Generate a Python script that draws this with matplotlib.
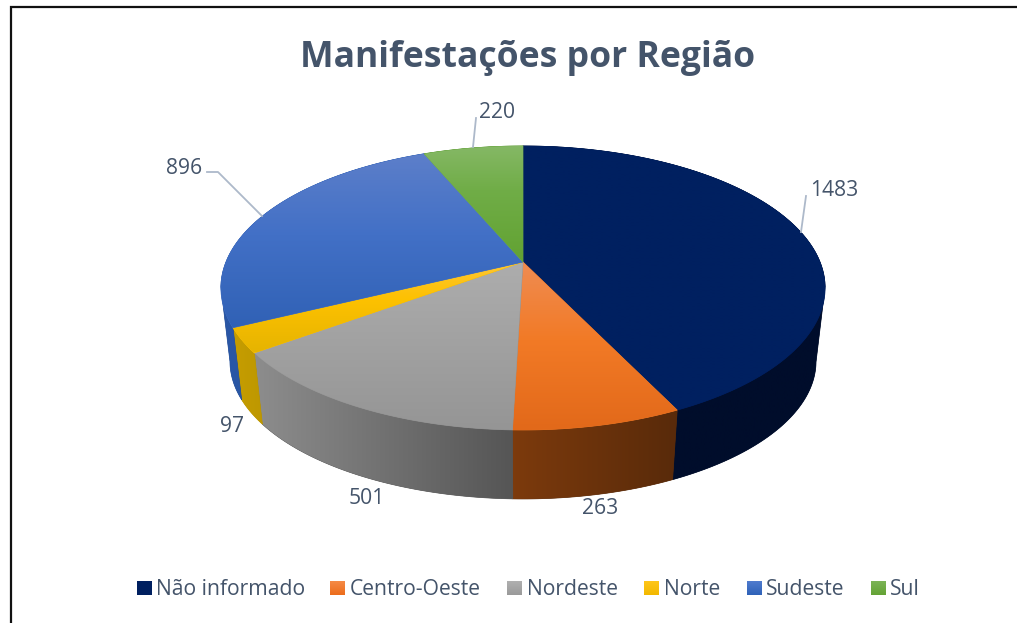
#!/usr/bin/env python3

import numpy as np
import matplotlib
matplotlib.use('Agg')
import matplotlib.pyplot as plt
from matplotlib.colors import LinearSegmentedColormap
from matplotlib.patches import Polygon

# chart data
categories = ['Não informado', 'Centro-Oeste', 'Nordeste', 'Norte', 'Sudeste', 'Sul']
values = [1483, 263, 501, 97, 896, 220]

TEXT_COLOR = '#44546a'
LEADER_COLOR = '#adb9ca'

# top face gradients, (pixel y, colour)
TOP_STOPS = [
    [(146, '#002060'), (430, '#002060')],
    [(262, '#ef8c52'), (340, '#f27a26'), (430, '#e2691a')],
    [(262, '#adadad'), (430, '#959595')],
    [(262, '#ffc633'), (300, '#fdc100'), (352, '#e6b400')],
    [(146, '#5f80ca'), (235, '#4270c6'), (335, '#2f60b4')],
    [(146, '#85b865'), (190, '#70ad47'), (262, '#62a232')],
]

# side gradients, (pixel x, colour)
SIDE_STOPS = [
    [(520, '#000d2b'), (830, '#000d2b')],
    [(505, '#7e3b0d'), (680, '#582a0a')],
    [(250, '#8e8e8e'), (515, '#555555')],
    [(230, '#c79e00'), (265, '#bd9700')],
    [(215, '#2a57a6'), (530, '#244e96')],
    [(420, '#4f8a2a'), (530, '#4f8a2a')],
]

# legend swatch gradients
LEGEND_TOP = ['#002060', '#f58a45', '#b0b0b0', '#ffc61a', '#4f7bce', '#7cb457']
LEGEND_BOTTOM = ['#002060', '#ec6d1c', '#9a9a9a', '#f2b800', '#2f62b8', '#64a335']
LEGEND_BOX_X = [137, 330, 507, 644, 747, 871]
LEGEND_TEXT_X = [156, 350, 527, 664, 766, 890]

# data labels, leader lines
LABEL_POS = [(834, 190), (600, 508), (367, 498), (232, 426), (184, 168), (497, 112)]
LEADERS = [
    [(801, 232), (806, 196)],
    None,
    None,
    None,
    [(262, 216), (218, 172), (207, 172)],
    [(473, 147), (476, 118)],
]

# the pie is a circle seen in perspective, fitted on the reference
CX, CY = 523, 262
RX = 297
C1 = -89.3
K = 0.183
BOTTOM_SCALE = 0.97
BOTTOM_DROP = 74

# the outline leaves the top rim and joins the bottom rim at these angles
FRONT_START = np.arccos(-K)
FRONT_END = 2 * np.pi - FRONT_START


def top_rim(t):
    """Pixel coords of the top rim, t is the clockwise angle from 12 o'clock."""
    u, v = np.sin(t), np.cos(t)
    w = 1 + K * v
    return CX + RX * u / w, (CY + C1 * v) / w


def bottom_rim(t):
    x, y = top_rim(t)
    return CX + (x - CX) * BOTTOM_SCALE, CY + (y - CY) * BOTTOM_SCALE + BOTTOM_DROP


def make_cmap(stops):
    lo, hi = stops[0][0], stops[-1][0]
    return LinearSegmentedColormap.from_list('g', [((p - lo) / (hi - lo), c) for p, c in stops])


def clipped_ramp(ax, stops, pts, vertical, zorder):
    # solid base first so no background shows through between the clip masks
    ax.add_patch(Polygon(pts, closed=True, facecolor=stops[len(stops) // 2][1],
                         edgecolor=stops[len(stops) // 2][1], lw=0.5, zorder=zorder))
    ramp = np.linspace(0, 1, 256)
    if vertical:
        ramp = ramp.reshape(-1, 1)
        extent = (200, 850, stops[-1][0], stops[0][0])
    else:
        ramp = ramp.reshape(1, -1)
        extent = (stops[0][0], stops[-1][0], 520, 130)
    im = ax.imshow(ramp, cmap=make_cmap(stops), extent=extent, aspect='auto',
                   interpolation='bilinear', vmin=0, vmax=1, zorder=zorder)
    patch = Polygon(pts, closed=True, facecolor='none', edgecolor='none', zorder=zorder)
    ax.add_patch(patch)
    im.set_clip_path(patch)


def draw_side(ax, i, angles):
    # star shaped outline around the pie centre, the top faces hide the inner part
    t = np.linspace(angles[i], angles[i + 1], 200)
    tx, ty = top_rim(t)
    bx, by = bottom_rim(t)
    front = (t >= FRONT_START) & (t <= FRONT_END)
    ox, oy = np.where(front, bx, tx), np.where(front, by, ty)
    xs = np.r_[CX, tx[0], ox, tx[-1]]
    ys = np.r_[CY, ty[0], oy, ty[-1]]
    clipped_ramp(ax, SIDE_STOPS[i], np.column_stack([xs, ys]), False, 1)


def draw_top(ax, i, angles):
    t = np.linspace(angles[i], angles[i + 1], 200)
    tx, ty = top_rim(t)
    pts = np.column_stack([np.r_[CX, tx], np.r_[CY, ty]])
    clipped_ramp(ax, TOP_STOPS[i], pts, True, 2)


fig = plt.figure(figsize=(10.17, 6.23), dpi=100)
ax = fig.add_axes([0, 0, 1, 1])
plt.rcParams['font.family'] = ['Open Sans', 'DejaVu Sans']

angles = np.cumsum([0] + values) / sum(values) * 2 * np.pi

# sides first, the top faces cover whatever is behind
for i in range(len(values)):
    draw_side(ax, i, angles)
for i in range(len(values)):
    draw_top(ax, i, angles)

for i, cat in enumerate(categories):
    ax.text(LABEL_POS[i][0], LABEL_POS[i][1], str(values[i]), color=TEXT_COLOR, fontsize=15.2,
            ha='center', va='center', zorder=4)
    if LEADERS[i]:
        xs, ys = zip(*LEADERS[i])
        ax.plot(xs, ys, color=LEADER_COLOR, lw=1.3, zorder=3)

    # legend
    box = LEGEND_BOX_X[i]
    cmap = LinearSegmentedColormap.from_list('l', [LEGEND_TOP[i], LEGEND_BOTTOM[i]])
    ax.imshow(np.linspace(0, 1, 32).reshape(-1, 1), cmap=cmap, extent=(box, box + 14.5, 595, 581),
              aspect='auto', zorder=3)
    ax.text(LEGEND_TEXT_X[i], 589.5, cat, color=TEXT_COLOR, fontsize=15.2, ha='left', va='center', zorder=4)

ax.text(528, 57.5, 'Manifestações por Região', color=TEXT_COLOR, fontsize=25.6, fontweight='bold',
        ha='center', va='center')

# chart frame, only top and left show in the crop
ax.plot([10.5, 10.5, 1017], [623, 6.5, 6.5], color='#111111', lw=1.6, solid_joinstyle='miter')

ax.set_xlim(0, 1017)
ax.set_ylim(623, 0)
ax.axis('off')

fig.savefig('out.png', dpi=100)
